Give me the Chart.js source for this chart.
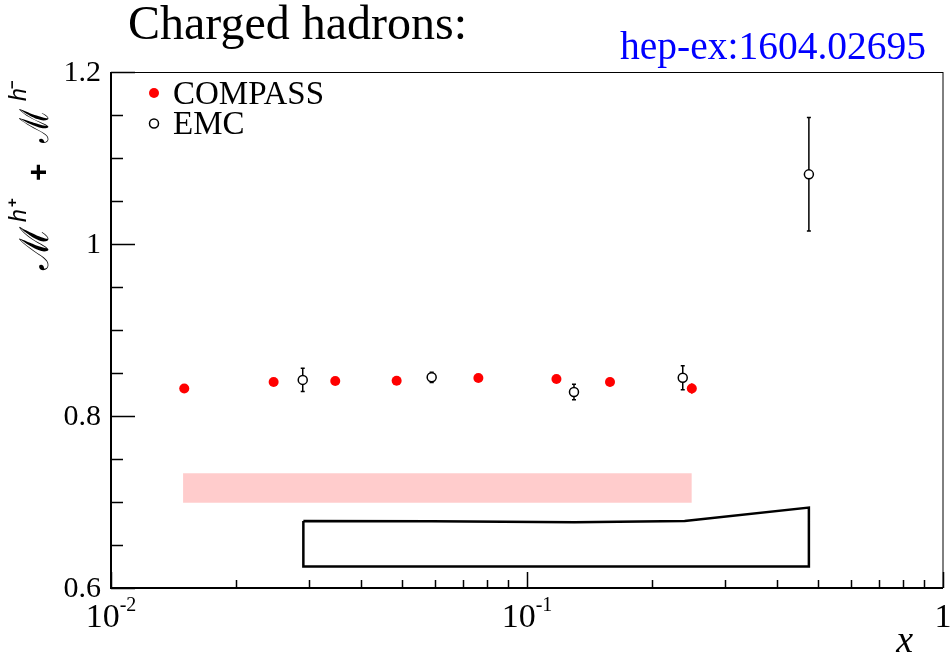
<!DOCTYPE html>
<html>
<head>
<meta charset="utf-8">
<script src="https://cdn.jsdelivr.net/npm/chart.js@4.4.0/dist/chart.umd.min.js"></script>
<style>
body { margin: 0; background: #fff; }
</style>
</head>
<body>
<canvas id="myChart" width="951" height="656"></canvas>
<script>
// COMPASS points (red, filled)
var compassX   = [0.015, 0.0246, 0.0346, 0.0486, 0.0764, 0.1177, 0.1583, 0.249];
var compassY   = [0.832, 0.8395, 0.8407, 0.841, 0.8442, 0.843, 0.8395, 0.832];
var compassErr = [0.002, 0.002, 0.002, 0.002, 0.002, 0.002, 0.005, 0.006];

// COMPASS systematic band (pink)
var compassSysX  = [0.0149, 0.249];
var compassSysHi = [0.7334, 0.7334];
var compassSysLo = [0.6992, 0.6992];

// EMC points (open circles)
var emcX   = [0.0289, 0.059, 0.1297, 0.2368, 0.476];
var emcY   = [0.842, 0.845, 0.828, 0.8445, 1.081];
var emcErr = [0.0135, 0.006, 0.009, 0.014, 0.066];

// EMC systematic box (black outline)
var emcSysX  = [0.029, 0.059, 0.13, 0.2393, 0.476];
var emcSysHi = [0.678, 0.6775, 0.6765, 0.678, 0.6935];
var emcSysLo = [0.625, 0.625, 0.625, 0.625, 0.625];

// axis ticks
var xTickValues = [0.01, 0.1, 1];
var xTickBase   = ['10', '10', '1'];
var xTickExp    = ['-2', '-1', ''];
var yTickValues = [0.6, 0.8, 1, 1.2];
var yTickLabels = ['0.6', '0.8', '1', '1.2'];

function pts(xs, ys) {
    return xs.map(function(x, i){ return {x: x, y: ys[i]}; });
}

// closed outline: upper edge left to right, lower edge back
function outline(xs, hi, lo) {
    var p = pts(xs, hi);
    for (var i = xs.length - 1; i >= 0; i--) p.push({x: xs[i], y: lo[i]});
    p.push({x: xs[0], y: hi[0]});
    return p;
}

function drawErr(ctx, xs, ys, X, Y, E, color, cap) {
    ctx.save();
    ctx.strokeStyle = color;
    ctx.lineWidth = 1.5;
    X.forEach(function(x, i){
        var px = xs.getPixelForValue(x);
        var top = ys.getPixelForValue(Y[i] + E[i]);
        var bot = ys.getPixelForValue(Y[i] - E[i]);
        ctx.beginPath();
        ctx.moveTo(px, top); ctx.lineTo(px, bot);
        if (cap) {
            ctx.moveTo(px - cap, top); ctx.lineTo(px + cap, top);
            ctx.moveTo(px - cap, bot); ctx.lineTo(px + cap, bot);
        }
        ctx.stroke();
    });
    ctx.restore();
}

const errorBars = {
    id: 'errorBars',
    beforeDatasetsDraw(chart) {
        const ctx = chart.ctx;
        drawErr(ctx, chart.scales.x, chart.scales.y, emcX, emcY, emcErr, '#000', 2);
        drawErr(ctx, chart.scales.x, chart.scales.y, compassX, compassY, compassErr, '#ff0000', 0);
    }
};

// script M stretched to the width used in the reference
function scriptM(ctx, x, w) {
    ctx.save();
    ctx.font = '40px "DejaVu Serif"';
    var mw = ctx.measureText('\u2133').width;
    ctx.translate(x, 0);
    ctx.scale(w / mw, 1);
    ctx.fillText('\u2133', 0, 0);
    ctx.restore();
}

// ROOT style frame, ticks, labels, legend and titles
const rootFrame = {
    id: 'rootFrame',
    afterDraw(chart) {
        const ctx = chart.ctx, a = chart.chartArea;
        const xs = chart.scales.x, ys = chart.scales.y;
        ctx.save();
        ctx.strokeStyle = '#000';

        // frame
        ctx.lineWidth = 1;
        ctx.beginPath();
        ctx.moveTo(a.left, a.top + 0.5); ctx.lineTo(a.right, a.top + 0.5);
        ctx.moveTo(a.right, a.top); ctx.lineTo(a.right, a.bottom);
        ctx.stroke();
        ctx.lineWidth = 2;
        ctx.beginPath();
        ctx.moveTo(a.left, a.top); ctx.lineTo(a.left, a.bottom + 1);
        ctx.moveTo(a.left - 1, a.bottom); ctx.lineTo(a.right, a.bottom);
        ctx.stroke();

        // y ticks every 0.05, long ones every 0.2
        ctx.lineWidth = 1.5;
        ctx.beginPath();
        for (var k = 12; k <= 24; k++) {
            var py = Math.round(ys.getPixelForValue(k * 0.05)) + 0.5;
            var len = (k % 4 === 0) ? 24 : 12;
            ctx.moveTo(a.left, py); ctx.lineTo(a.left + len, py);
        }
        // x ticks on log scale
        for (var d = -2; d <= 0; d++) {
            for (var m = 1; m <= 9; m++) {
                var v = m * Math.pow(10, d);
                if (v > 1.0001) break;
                var px = Math.round(xs.getPixelForValue(v)) + 0.5;
                var l2 = (m === 1) ? 16 : 8;
                ctx.moveTo(px, a.bottom); ctx.lineTo(px, a.bottom - l2);
            }
        }
        ctx.stroke();

        ctx.fillStyle = '#000';
        // y tick labels
        ctx.font = '30px "Liberation Serif"';
        ctx.textAlign = 'right';
        ctx.textBaseline = 'middle';
        yTickValues.forEach(function(v, i){
            ctx.fillText(yTickLabels[i], 101, ys.getPixelForValue(v) + 1);
        });

        // x tick labels with superscript exponent
        ctx.textBaseline = 'alphabetic';
        ctx.textAlign = 'left';
        xTickValues.forEach(function(v, i){
            ctx.font = '34px "Liberation Serif"';
            var wb = ctx.measureText(xTickBase[i]).width;
            ctx.font = '20px "Liberation Serif"';
            var we = xTickExp[i] ? ctx.measureText(xTickExp[i]).width : 0;
            var px = xs.getPixelForValue(v);
            var x0 = px - (wb + we) / 2;
            ctx.font = '34px "Liberation Serif"';
            ctx.fillText(xTickBase[i], x0, 627);
            if (xTickExp[i]) {
                ctx.font = '20px "Liberation Serif"';
                ctx.fillText(xTickExp[i], x0 + wb, 611);
            }
        });

        // x axis title
        ctx.font = 'italic 38px "Liberation Serif"';
        ctx.textAlign = 'right';
        ctx.fillText('x', 913, 652);

        // titles
        ctx.textAlign = 'left';
        ctx.font = '48px "Liberation Serif"';
        ctx.fillText('Charged hadrons:', 128, 39);
        ctx.fillStyle = '#0000ff';
        ctx.font = '39.5px "Liberation Serif"';
        ctx.fillText('hep-ex:1604.02695', 620, 59);

        // legend
        ctx.fillStyle = '#ff0000';
        ctx.beginPath(); ctx.arc(154, 93, 5, 0, Math.PI * 2); ctx.fill();
        ctx.strokeStyle = '#000';
        ctx.lineWidth = 1.5;
        ctx.beginPath(); ctx.arc(154, 123.5, 4.5, 0, Math.PI * 2); ctx.stroke();
        ctx.fillStyle = '#000';
        ctx.font = '33px "Liberation Serif"';
        ctx.fillText('COMPASS', 173, 104);
        ctx.fillText('EMC', 173, 134);

        // y axis title, rotated
        ctx.translate(48, 270);
        ctx.rotate(-Math.PI / 2);
        scriptM(ctx, 0, 43);
        scriptM(ctx, 127, 34);
        ctx.font = 'italic 23px "Liberation Sans"';
        ctx.fillText('h', 48, -22);
        ctx.fillText('h', 169, -22);
        ctx.font = 'bold 15px "Liberation Sans"';
        ctx.fillText('+', 63, -31);
        ctx.fillText('\u2212', 181, -31);
        ctx.font = 'bold 30px "Liberation Sans"';
        ctx.fillText('+', 89, 0);
        ctx.restore();
    }
};

const chartData = {
    datasets: [{
        label: 'COMPASS',
        data: pts(compassX, compassY),
        backgroundColor: '#ff0000',
        borderColor: '#ff0000',
        pointRadius: 5,
        pointBorderWidth: 0,
        showLine: false
    }, {
        label: 'EMC',
        data: pts(emcX, emcY),
        backgroundColor: '#ffffff',
        borderColor: '#000000',
        pointRadius: 4.5,
        pointBorderWidth: 1.5,
        showLine: false
    }, {
        label: 'EMC sys',
        data: outline(emcSysX, emcSysHi, emcSysLo),
        borderColor: '#000000',
        borderWidth: 2.5,
        pointRadius: 0,
        showLine: true,
        fill: false
    }, {
        label: 'COMPASS sys hi',
        data: pts(compassSysX, compassSysHi),
        borderWidth: 0,
        borderColor: 'rgba(0,0,0,0)',
        backgroundColor: 'rgb(255, 204, 204)',
        pointRadius: 0,
        showLine: true,
        fill: '+1'
    }, {
        label: 'COMPASS sys lo',
        data: pts(compassSysX, compassSysLo),
        borderWidth: 0,
        borderColor: 'rgba(0,0,0,0)',
        pointRadius: 0,
        showLine: true,
        fill: false
    }]
};

const config = {
    type: 'scatter',
    data: chartData,
    options: {
        responsive: false,
        animation: false,
        devicePixelRatio: 1,
        layout: { padding: { left: 111, right: 8, top: 72, bottom: 68 } },
        plugins: { legend: { display: false }, tooltip: { enabled: false } },
        scales: {
            x: { type: 'logarithmic', min: 0.01, max: 1, display: false },
            y: { type: 'linear', min: 0.6, max: 1.2, display: false }
        }
    },
    plugins: [errorBars, rootFrame]
};

var myChart = new Chart(document.getElementById('myChart'), config);
</script>
</body>
</html>
